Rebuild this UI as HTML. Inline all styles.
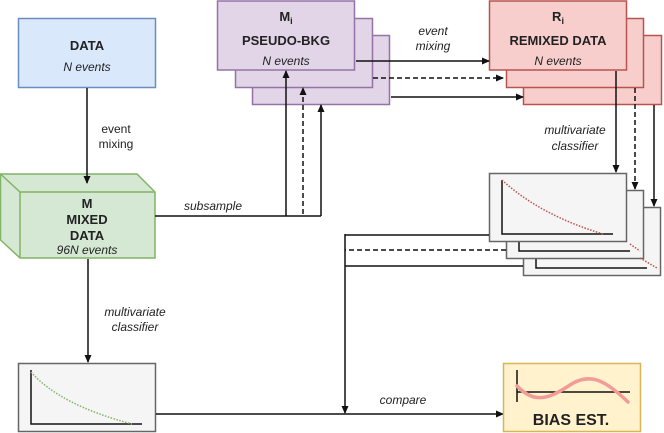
<!DOCTYPE html>
<html><head><style>
body{margin:0;background:#fff}
svg{display:block}
text{font-family:"Liberation Sans",sans-serif;fill:#222}
.b{font-weight:bold;font-size:13px}
.i{font-style:italic;font-size:12px}
</style></head><body>
<svg width="664" height="433" viewBox="0 0 664 433">
<defs><marker id="a" markerWidth="8" markerHeight="8" refX="7" refY="4" orient="auto" markerUnits="userSpaceOnUse"><path d="M0,0.5 L8,4 L0,7.5 z" fill="#111"/></marker></defs>
<!-- DATA -->
<rect x="18.5" y="18.5" width="137" height="69" fill="#dae8fc" stroke="#6c8ebf" stroke-width="1.5"/>
<text x="87" y="50" class="b" text-anchor="middle">DATA</text>
<text x="87" y="71" class="i" text-anchor="middle">N events</text>
<text x="116" y="133" font-size="12" text-anchor="middle">event</text>
<text x="116" y="148" font-size="12" text-anchor="middle">mixing</text>
<!-- cube -->
<polygon points="0.5,174 137,174 155,192 155,258 20,258 0.5,240" fill="#d5e8d4" stroke="#82b366" stroke-width="1.5"/>
<polyline points="0.5,174 20,192 155,192" fill="none" stroke="#82b366" stroke-width="1.5"/>
<line x1="20" y1="192" x2="20" y2="258" stroke="#82b366" stroke-width="1.5"/>
<line x1="87" y1="88" x2="87" y2="183" stroke="#111" stroke-width="1.5" marker-end="url(#a)"/>
<text x="87" y="208" class="b" text-anchor="middle">M</text>
<text x="87" y="224" class="b" text-anchor="middle">MIXED</text>
<text x="87" y="240" class="b" text-anchor="middle">DATA</text>
<text x="87" y="254" class="i" text-anchor="middle">96N events</text>
<!-- pseudo stack -->
<rect x="252.5" y="35.5" width="137" height="69" fill="#e1d5e7" stroke="#9673a6" stroke-width="1.5"/>
<rect x="235.5" y="18.5" width="137" height="69" fill="#e1d5e7" stroke="#9673a6" stroke-width="1.5"/>
<rect x="217.5" y="1" width="137" height="69" fill="#e1d5e7" stroke="#9673a6" stroke-width="1.5"/>
<text x="286" y="21" class="b" text-anchor="middle">M<tspan font-size="9" dy="3">i</tspan></text>
<text x="286" y="45" class="b" text-anchor="middle">PSEUDO-BKG</text>
<text x="286" y="65" class="i" text-anchor="middle">N events</text>
<!-- subsample -->
<polyline points="155,216 321,216" fill="none" stroke="#111" stroke-width="1.5"/>
<text x="213" y="210" class="i" text-anchor="middle">subsample</text>
<line x1="286" y1="216" x2="286" y2="71" stroke="#111" stroke-width="1.5" marker-end="url(#a)"/>
<line x1="303" y1="214" x2="303" y2="88" stroke="#111" stroke-width="1.5" stroke-dasharray="5,3" marker-end="url(#a)"/>
<line x1="321" y1="216" x2="321" y2="105" stroke="#111" stroke-width="1.5" marker-end="url(#a)"/>
<!-- remixed stack -->
<rect x="523.5" y="35.5" width="138" height="69" fill="#f8cecc" stroke="#b85450" stroke-width="1.5"/>
<rect x="506.5" y="18.5" width="137" height="69" fill="#f8cecc" stroke="#b85450" stroke-width="1.5"/>
<rect x="489.5" y="1" width="137" height="69" fill="#f8cecc" stroke="#b85450" stroke-width="1.5"/>
<text x="558" y="21" class="b" text-anchor="middle">R<tspan font-size="9" dy="3">i</tspan></text>
<text x="558" y="45" class="b" text-anchor="middle">REMIXED DATA</text>
<text x="558" y="65" class="i" text-anchor="middle">N events</text>
<line x1="356" y1="61" x2="489" y2="61" stroke="#111" stroke-width="1.5" marker-end="url(#a)"/>
<line x1="373" y1="78" x2="503" y2="78" stroke="#111" stroke-width="1.5" stroke-dasharray="5,3" marker-end="url(#a)"/>
<line x1="391" y1="97" x2="523" y2="97" stroke="#111" stroke-width="1.5" marker-end="url(#a)"/>
<text x="433" y="35" class="i" text-anchor="middle">event</text>
<text x="433" y="50" class="i" text-anchor="middle">mixing</text>
<line x1="616" y1="71" x2="616" y2="172" stroke="#111" stroke-width="1.5" marker-end="url(#a)"/>
<line x1="635" y1="88" x2="635" y2="189" stroke="#111" stroke-width="1.5" stroke-dasharray="5,3" marker-end="url(#a)"/>
<line x1="654" y1="105" x2="654" y2="206" stroke="#111" stroke-width="1.5" marker-end="url(#a)"/>
<text x="575" y="134" class="i" text-anchor="middle">multivariate</text>
<text x="575" y="150" class="i" text-anchor="middle">classifier</text>
<!-- plot stack -->
<g stroke-width="1.5">
<rect x="523.5" y="207.5" width="137" height="68" fill="#f5f5f5" stroke="#666"/>
<polyline points="536,214 536,268 647,268" fill="none" stroke="#111"/>
<rect x="506.5" y="190.5" width="137" height="68" fill="#f5f5f5" stroke="#666"/>
<polyline points="519,197 519,251 630,251" fill="none" stroke="#111"/>
<rect x="489.5" y="173.5" width="137" height="68" fill="#f5f5f5" stroke="#666"/>
<polyline points="502,180 502,234 613,234" fill="none" stroke="#111"/>
</g>
<path d="M502,180 Q540,215 603,234" fill="none" stroke="#c0504d" stroke-width="1.5" stroke-dasharray="1.5,1.5"/>
<path d="M630,244 L640,251" fill="none" stroke="#c0504d" stroke-width="1.5" stroke-dasharray="1.5,1.5"/>
<path d="M640,258 L657,268" fill="none" stroke="#c0504d" stroke-width="1.5" stroke-dasharray="1.5,1.5"/>
<polyline points="489,235 345,235" fill="none" stroke="#111" stroke-width="1.5"/>
<line x1="506" y1="250" x2="345" y2="250" stroke="#111" stroke-width="1.5" stroke-dasharray="5,3"/>
<line x1="523" y1="266" x2="345" y2="266" stroke="#111" stroke-width="1.5"/>
<line x1="345" y1="234" x2="345" y2="413" stroke="#111" stroke-width="1.5" marker-end="url(#a)"/>
<!-- bottom plot -->
<line x1="88" y1="259" x2="88" y2="362" stroke="#111" stroke-width="1.5" marker-end="url(#a)"/>
<text x="135" y="316" class="i" text-anchor="middle">multivariate</text>
<text x="135" y="331" class="i" text-anchor="middle">classifier</text>
<rect x="18.5" y="363.5" width="137" height="68" fill="#f5f5f5" stroke="#666" stroke-width="1.5"/>
<polyline points="31,370 31,424 142,424" fill="none" stroke="#111" stroke-width="1.5"/>
<path d="M31,372 Q60,405 132,424" fill="none" stroke="#82b366" stroke-width="1.5" stroke-dasharray="1.5,1.5"/>
<line x1="156" y1="414" x2="503" y2="414" stroke="#111" stroke-width="1.5" marker-end="url(#a)"/>
<text x="403" y="404" class="i" text-anchor="middle">compare</text>
<!-- bias -->
<rect x="503.5" y="363.5" width="137" height="68" fill="#fff2cc" stroke="#d6b656" stroke-width="1.5"/>
<line x1="517" y1="370" x2="517" y2="402" stroke="#111" stroke-width="1.5"/>
<line x1="517" y1="392" x2="630" y2="392" stroke="#111" stroke-width="1.5"/>
<path d="M517,386 C535,405 550,398 570,385 C590,372 605,380 628,402" fill="none" stroke="#f19c99" stroke-width="3.5" stroke-linecap="round"/>
<text x="571" y="425" font-weight="bold" font-size="16" text-anchor="middle">BIAS EST.</text>
</svg>
</body></html>
